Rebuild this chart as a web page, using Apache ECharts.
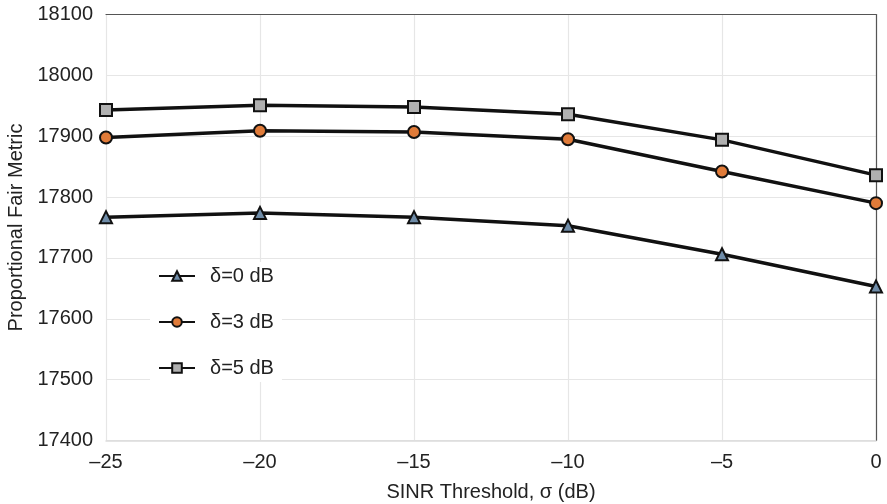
<!DOCTYPE html>
<html>
<head>
<meta charset="utf-8">
<script src="https://cdn.jsdelivr.net/npm/echarts@6/dist/echarts.min.js"></script>
<style>
  html, body { margin: 0; padding: 0; background: #fff; }
  #chart { width: 887px; height: 504px; }
</style>
</head>
<body>
<div id="chart"></div>
<script>
// SINR threshold values (dB) on the x axis
const thresholds = [-25, -20, -15, -10, -5, 0];

// Proportional fair metric for each power offset δ
const delta0 = [17767, 17774, 17767, 17753, 17706, 17653];
const delta3 = [17898, 17909, 17907, 17895, 17842, 17790];
const delta5 = [17943, 17951, 17948, 17936, 17894, 17836];

const seriesNames = ['δ=0 dB', 'δ=3 dB', 'δ=5 dB'];

const font = 'Liberation Sans, Arial, Helvetica, sans-serif';
const pair = (vals) => thresholds.map((x, i) => [x, vals[i]]);
const dash = (v) => String(v).replace('-', '\u2013');

const chart = echarts.init(document.getElementById('chart'));

function lineSeries(name, vals, symbol, fill, size) {
  return {
    name: name,
    type: 'line',
    data: pair(vals),
    symbol: symbol,
    symbolSize: size,
    showSymbol: true,
    lineStyle: { color: '#111', width: 3.5 },
    itemStyle: { color: fill, borderColor: '#111', borderWidth: 2 },
    emphasis: { disabled: true },
    animation: false,
    z: 3
  };
}

chart.setOption({
  backgroundColor: '#fff',
  animation: false,
  grid: { left: 106, right: 11, top: 14.5, bottom: 63.5, outerBoundsMode: 'none', containLabel: false },
  legend: {
    orient: 'vertical',
    left: 150,
    top: 262,
    itemWidth: 36,
    itemHeight: 12,
    itemGap: 26,
    backgroundColor: '#fff',
    padding: [4, 8],
    data: seriesNames,
    textStyle: { fontFamily: font, fontSize: 20, color: '#222', padding: [0, 0, 0, 10] },
    lineStyle: { width: 2 }
  },
  xAxis: [{
    type: 'value',
    min: -25,
    max: 0,
    interval: 5,
    name: 'SINR Threshold, σ (dB)',
    nameLocation: 'middle',
    nameGap: 42,
    nameTextStyle: { fontFamily: font, fontSize: 20, color: '#222' },
    axisLine: { show: true, lineStyle: { color: '#dcdcdc', width: 1.5 } },
    axisTick: { show: false },
    axisLabel: { fontFamily: font, fontSize: 20, color: '#222', margin: 12, formatter: dash },
    splitLine: { show: true, lineStyle: { color: '#e6e6e6', width: 1.2 } }
  }, {
    type: 'value',
    position: 'top',
    min: -25,
    max: 0,
    axisLine: { show: true, lineStyle: { color: '#555', width: 1.2 } },
    axisTick: { show: false },
    axisLabel: { show: false },
    splitLine: { show: false }
  }],
  yAxis: {
    type: 'value',
    min: 17400,
    max: 18100,
    interval: 100,
    name: 'Proportional Fair Metric',
    nameLocation: 'middle',
    nameGap: 80,
    nameTextStyle: { fontFamily: font, fontSize: 20, color: '#222' },
    axisLine: { show: true, lineStyle: { color: '#555', width: 1.2 } },
    axisTick: { show: false },
    axisLabel: { fontFamily: font, fontSize: 20, color: '#222', margin: 13, formatter: (v) => String(v) },
    splitLine: { show: true, lineStyle: { color: '#e6e6e6', width: 1.2 } }
  },
  series: [
    lineSeries(seriesNames[0], delta0, 'triangle', '#6f8ca8', 12),
    lineSeries(seriesNames[1], delta3, 'circle', '#e07b39', 12),
    lineSeries(seriesNames[2], delta5, 'rect', '#b0b0b0', 12)
  ]
});
</script>
</body>
</html>
